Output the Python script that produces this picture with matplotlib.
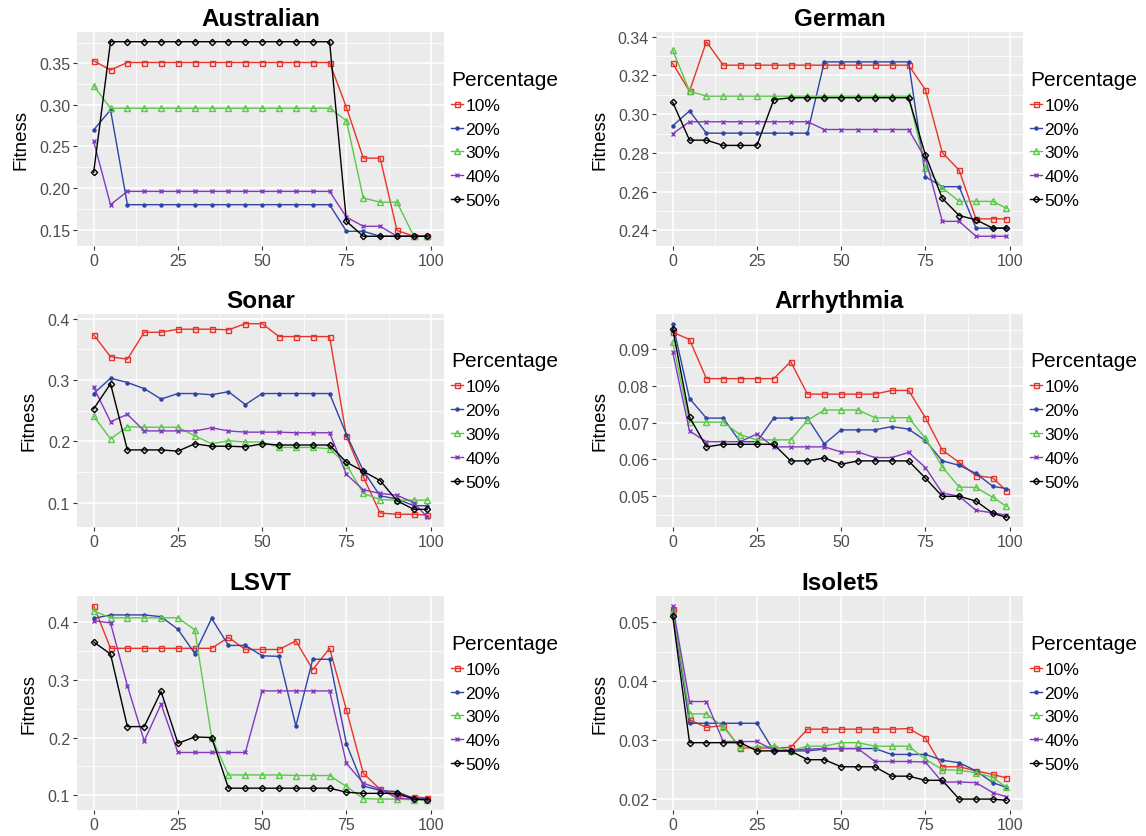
import matplotlib.pyplot as plt
import numpy as np

# ============================================================
# DATOS
# ============================================================

x = [0, 5, 10, 15, 20, 25, 30, 35, 40, 45, 50, 55, 60, 65, 70, 75, 80, 85, 90, 95, 99]
etiquetas = ["10%", "20%", "30%", "40%", "50%"]

australian = {
    "10%": [0.353, 0.342] + [0.351] * 13 + [0.297, 0.236, 0.236, 0.149, 0.142, 0.142],
    "20%": [0.270, 0.294] + [0.180] * 13 + [0.148, 0.148, 0.142, 0.142, 0.142, 0.142],
    "30%": [0.323] + [0.296] * 14 + [0.281, 0.188, 0.183, 0.183, 0.142, 0.142],
    "40%": [0.256, 0.180] + [0.196] * 13 + [0.165, 0.154, 0.154, 0.142, 0.142, 0.142],
    "50%": [0.219] + [0.376] * 14 + [0.160, 0.142, 0.142, 0.142, 0.142, 0.142],
}

german = {
    "10%": [0.3262, 0.3119, 0.3374] + [0.3253] * 12 + [0.3126, 0.2802, 0.2711, 0.2460, 0.2460, 0.2460],
    "20%": [0.2940, 0.3017] + [0.2902] * 7 + [0.3270] * 6 + [0.2677, 0.2626, 0.2626, 0.2412, 0.2412, 0.2412],
    "30%": [0.3331, 0.3119] + [0.3093] * 13 + [0.2723, 0.2620, 0.2550, 0.2550, 0.2550, 0.2515],
    "40%": [0.2899] + [0.2961] * 8 + [0.2921] * 6 + [0.2771, 0.2447, 0.2447, 0.2370, 0.2370, 0.2370],
    "50%": [0.3062, 0.2866, 0.2866, 0.2839, 0.2839, 0.2839, 0.3075] + [0.3085] * 8
           + [0.2789, 0.2566, 0.2477, 0.2455, 0.2412, 0.2412],
}

sonar = {
    "10%": [0.374, 0.338, 0.334, 0.378, 0.378, 0.383, 0.383, 0.383, 0.382, 0.392, 0.392,
            0.371, 0.371, 0.371, 0.371, 0.208, 0.142, 0.083, 0.081, 0.081, 0.0795],
    "20%": [0.278, 0.303, 0.296, 0.286, 0.269, 0.278, 0.278, 0.276, 0.281, 0.260, 0.278,
            0.278, 0.278, 0.278, 0.278, 0.211, 0.152, 0.111, 0.106, 0.095, 0.095],
    "30%": [0.241, 0.204, 0.224, 0.223, 0.223, 0.223, 0.209, 0.196, 0.201, 0.199, 0.199,
            0.190, 0.190, 0.190, 0.188, 0.162, 0.115, 0.105, 0.104, 0.104, 0.104],
    "40%": [0.288, 0.232, 0.244, 0.217, 0.217, 0.217, 0.217, 0.222, 0.217, 0.215, 0.215,
            0.215, 0.214, 0.214, 0.214, 0.146, 0.121, 0.115, 0.112, 0.100, 0.076],
    "50%": [0.253, 0.294, 0.186, 0.186, 0.186, 0.184, 0.196, 0.192, 0.192, 0.191, 0.196,
            0.194, 0.194, 0.194, 0.194, 0.166, 0.151, 0.136, 0.103, 0.089, 0.089],
}

arrhythmia = {
    "10%": [0.0945, 0.0925, 0.0819, 0.0819, 0.0819, 0.0819, 0.0819, 0.0865, 0.0777, 0.0777, 0.0777,
            0.0777, 0.0777, 0.0787, 0.0787, 0.0713, 0.0625, 0.0592, 0.0556, 0.0550, 0.0515],
    "20%": [0.0968, 0.0765, 0.0712, 0.0712, 0.0648, 0.0648, 0.0712, 0.0712, 0.0712, 0.0642, 0.0680,
            0.0680, 0.0680, 0.0689, 0.0682, 0.0651, 0.0596, 0.0584, 0.0562, 0.0527, 0.0521],
    "30%": [0.0918, 0.0701, 0.0701, 0.0701, 0.0667, 0.0653, 0.0653, 0.0653, 0.0706, 0.0734, 0.0734,
            0.0734, 0.0713, 0.0713, 0.0713, 0.0657, 0.0580, 0.0525, 0.0524, 0.0497, 0.0473],
    "40%": [0.0891, 0.0677, 0.0648, 0.0648, 0.0648, 0.0669, 0.0634, 0.0634, 0.0634, 0.0634, 0.0620,
            0.0620, 0.0605, 0.0605, 0.0619, 0.0578, 0.0509, 0.0500, 0.0462, 0.0455, 0.0449],
    "50%": [0.0954, 0.0715, 0.0634, 0.0641, 0.0641, 0.0641, 0.0641, 0.0596, 0.0596, 0.0604, 0.0587,
            0.0596, 0.0596, 0.0596, 0.0596, 0.0549, 0.0500, 0.0500, 0.0487, 0.0454, 0.0443],
}

lsvt = {
    "10%": [0.429, 0.355, 0.355, 0.355, 0.355, 0.355, 0.355, 0.355, 0.374, 0.353, 0.353,
            0.353, 0.368, 0.318, 0.355, 0.248, 0.138, 0.110, 0.099, 0.097, 0.095],
    "20%": [0.407, 0.413, 0.413, 0.413, 0.410, 0.388, 0.346, 0.407, 0.360, 0.360, 0.342,
            0.341, 0.220, 0.336, 0.336, 0.189, 0.116, 0.108, 0.106, 0.094, 0.093],
    "30%": [0.420, 0.408, 0.408, 0.408, 0.408, 0.408, 0.387, 0.200, 0.135, 0.135, 0.135,
            0.135, 0.134, 0.134, 0.134, 0.115, 0.094, 0.093, 0.093, 0.092, 0.091],
    "40%": [0.403, 0.399, 0.290, 0.194, 0.258, 0.174, 0.174, 0.174, 0.174, 0.174, 0.281,
            0.281, 0.281, 0.281, 0.281, 0.155, 0.121, 0.110, 0.095, 0.093, 0.093],
    "50%": [0.366, 0.345, 0.219, 0.219, 0.280, 0.190, 0.201, 0.200, 0.112, 0.112, 0.112,
            0.112, 0.112, 0.112, 0.112, 0.105, 0.103, 0.103, 0.103, 0.093, 0.092],
}

isolet5 = {
    "10%": [0.0523, 0.0334, 0.0321, 0.0324, 0.0286, 0.0286, 0.0286, 0.0287, 0.0318, 0.0318, 0.0318,
            0.0318, 0.0318, 0.0318, 0.0319, 0.0303, 0.0254, 0.0254, 0.0247, 0.0241, 0.0235],
    "20%": [0.0521, 0.0328, 0.0328, 0.0328, 0.0328, 0.0328, 0.0281, 0.0281, 0.0281, 0.0284, 0.0285,
            0.0285, 0.0285, 0.0275, 0.0275, 0.0275, 0.0265, 0.0261, 0.0247, 0.0227, 0.0219],
    "30%": [0.0519, 0.0344, 0.0344, 0.0322, 0.0287, 0.0287, 0.0289, 0.0281, 0.0289, 0.0289, 0.0295,
            0.0295, 0.0289, 0.0289, 0.0289, 0.0267, 0.0249, 0.0248, 0.0244, 0.0236, 0.0219],
    "40%": [0.0528, 0.0365, 0.0365, 0.0297, 0.0297, 0.0297, 0.0282, 0.0282, 0.0284, 0.0285, 0.0285,
            0.0285, 0.0263, 0.0263, 0.0263, 0.0262, 0.0228, 0.0228, 0.0227, 0.0210, 0.0203],
    "50%": [0.0511, 0.0295, 0.0295, 0.0295, 0.0295, 0.0281, 0.0281, 0.0281, 0.0266, 0.0266, 0.0254,
            0.0254, 0.0254, 0.0238, 0.0238, 0.0231, 0.0231, 0.0199, 0.0199, 0.0199, 0.0197],
}

paneles = [
    ("Australian", australian, [0.15, 0.20, 0.25, 0.30, 0.35], ["0.15", "0.20", "0.25", "0.30", "0.35"]),
    ("German", german, [0.24, 0.26, 0.28, 0.30, 0.32, 0.34], ["0.24", "0.26", "0.28", "0.30", "0.32", "0.34"]),
    ("Sonar", sonar, [0.1, 0.2, 0.3, 0.4], ["0.1", "0.2", "0.3", "0.4"]),
    ("Arrhythmia", arrhythmia, [0.05, 0.06, 0.07, 0.08, 0.09], ["0.05", "0.06", "0.07", "0.08", "0.09"]),
    ("LSVT", lsvt, [0.1, 0.2, 0.3, 0.4], ["0.1", "0.2", "0.3", "0.4"]),
    ("Isolet5", isolet5, [0.02, 0.03, 0.04, 0.05], ["0.02", "0.03", "0.04", "0.05"]),
]

# ============================================================
# ESTILO
# ============================================================

plt.rcParams["font.family"] = ["Liberation Sans", "DejaVu Sans"]

colores = {"10%": "#E8332A", "20%": "#2E45A5", "30%": "#5AC94A", "40%": "#8438C0", "50%": "#000000"}
marcadores = {
    "10%": dict(marker="s", markersize=3.6, fillstyle="none", markeredgewidth=1.0),
    "20%": dict(marker="o", markersize=2.2),
    "30%": dict(marker="^", markersize=4.0, fillstyle="none", markeredgewidth=1.0),
    "40%": dict(marker="x", markersize=3.4, markeredgewidth=1.0),
    "50%": dict(marker="D", markersize=3.2, fillstyle="none", markeredgewidth=1.0),
}

W, H = 1146, 837
fig = plt.figure(figsize=(W / 100, H / 100), dpi=100)

columnas = [(77, 444), (656, 1023)]
filas = [(33, 247), (315, 528), (597, 811)]

for i, (titulo, datos, yticks, ylabels) in enumerate(paneles):
    fila, col = divmod(i, 2)
    x0, x1 = columnas[col]
    y0, y1 = filas[fila]
    ax = fig.add_axes([x0 / W, 1 - y1 / H, (x1 - x0) / W, (y1 - y0) / H])
    ax.set_facecolor("#EBEBEB")
    for s in ax.spines.values():
        s.set_visible(False)

    for et in etiquetas:
        ax.plot(x, datos[et], color=colores[et], linewidth=1.0, label=et, **marcadores[et])

    ax.set_xticks([0, 25, 50, 75, 100])
    ax.set_xticks([12.5, 37.5, 62.5, 87.5], minor=True)
    ax.set_yticks(yticks)
    ax.set_yticklabels(ylabels)
    paso = yticks[1] - yticks[0]
    menores = [yticks[0] - paso / 2] + [t + paso / 2 for t in yticks]
    ax.set_yticks(menores, minor=True)
    ax.set_xlim(-4.95, 103.95)
    lo = min(min(v) for v in datos.values())
    hi = max(max(v) for v in datos.values())
    r = hi - lo
    ax.set_ylim(lo - 0.05 * r, hi + 0.05 * r)

    ax.grid(which="major", color="white", linewidth=1.1)
    ax.grid(which="minor", color="white", linewidth=0.55)
    ax.set_axisbelow(True)
    ax.tick_params(which="major", length=3, width=0.8, color="#333333",
                   labelsize=11.5, labelcolor="#4D4D4D", pad=2)
    ax.tick_params(which="minor", length=0)

    ax.set_title(titulo, fontsize=17.5, fontweight="bold", pad=5)
    ax.set_ylabel("Fitness", fontsize=13.5, labelpad=7)

    leg = ax.legend(loc="center left", bbox_to_anchor=(0.995, 0.5), frameon=False,
                    title="Percentage", fontsize=12.5, title_fontsize=15,
                    handlelength=0.7, handletextpad=0.15, labelspacing=0.5,
                    borderaxespad=0.1)
    leg._legend_box.align = "left"

fig.savefig("out.png", dpi=100)
